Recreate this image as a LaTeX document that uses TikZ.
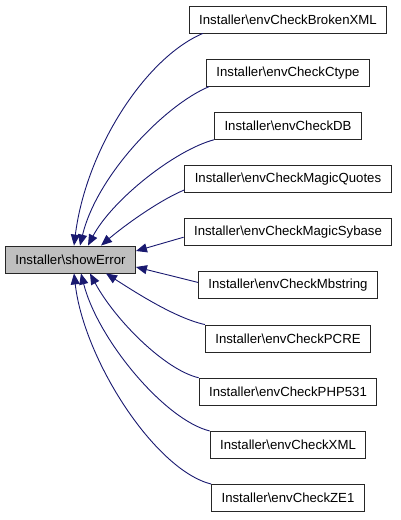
\documentclass[tikz,border=0pt]{standalone}
\usepackage{fontspec}
\setmainfont{Liberation Sans}
\usetikzlibrary{arrows.meta,calc}
\definecolor{edgeblue}{HTML}{191970}
\definecolor{segray}{HTML}{BFBFBF}
\begin{document}
\begin{tikzpicture}[x=1pt,y=-1pt,
  box/.style={draw=black!85, line width=0.9pt, fill=white, inner xsep=10pt, inner ysep=0pt,
    minimum height=27pt, font=\fontsize{13.2}{15}\selectfont},
  edge/.style={draw=edgeblue, line width=0.9pt, -{Triangle[length=11pt,width=9pt]}}]
\useasboundingbox (0,0) rectangle (400,520);
\node[box, fill=segray, minimum height=27pt] (se) at (70.5,259.5) {Installer\textbackslash showError};
\node[box] (n0) at (288,19.5) {Installer\textbackslash envCheckBrokenXML};
\node[box] (n1) at (288,72.7) {Installer\textbackslash envCheckCtype};
\node[box] (n2) at (288,125.8) {Installer\textbackslash envCheckDB};
\node[box] (n3) at (288,179.0) {Installer\textbackslash envCheckMagicQuotes};
\node[box] (n4) at (288,232.2) {Installer\textbackslash envCheckMagicSybase};
\node[box] (n5) at (288,285.4) {Installer\textbackslash envCheckMbstring};
\node[box] (n6) at (288,338.5) {Installer\textbackslash envCheckPCRE};
\node[box] (n7) at (288,391.7) {Installer\textbackslash envCheckPHP531};
\node[box] (n8) at (288,444.9) {Installer\textbackslash envCheckXML};
\node[box] (n9) at (288,498.0) {Installer\textbackslash envCheckZE1};
% top edges
\draw[edge] ([xshift=14pt]n0.south west) .. controls (145,58) and (86,150) .. ([xshift=3.5pt]se.north);
\draw[edge] ([xshift=3pt]n1.south west) .. controls (165,105) and (97,175) .. ([xshift=9.5pt]se.north);
\draw[edge] (n2.south west) .. controls (175,150) and (112,200) .. ([xshift=17.5pt]se.north);
\draw[edge] ([yshift=3pt]n3.south west) .. controls (160,200) and (125,225) .. ([xshift=30.5pt]se.north);
% side edges
\draw[edge] ([yshift=-5pt]n4.west) -- ([yshift=8.5pt]se.east);
\draw[edge] ([yshift=3pt]n5.west) -- ([yshift=-7.5pt]se.east);
% bottom edges
\draw[edge] (n6.north west) .. controls (175,318) and (135,292) .. ([xshift=35.5pt]se.south);
\draw[edge] (n7.north west) .. controls (165,370) and (115,320) .. ([xshift=19.5pt]se.south);
\draw[edge] (n8.north west) .. controls (165,420) and (98,340) .. ([xshift=10.5pt]se.south);
\draw[edge] (n9.north west) .. controls (155,470) and (84,360) .. ([xshift=3.5pt]se.south);
\end{tikzpicture}
\end{document}
